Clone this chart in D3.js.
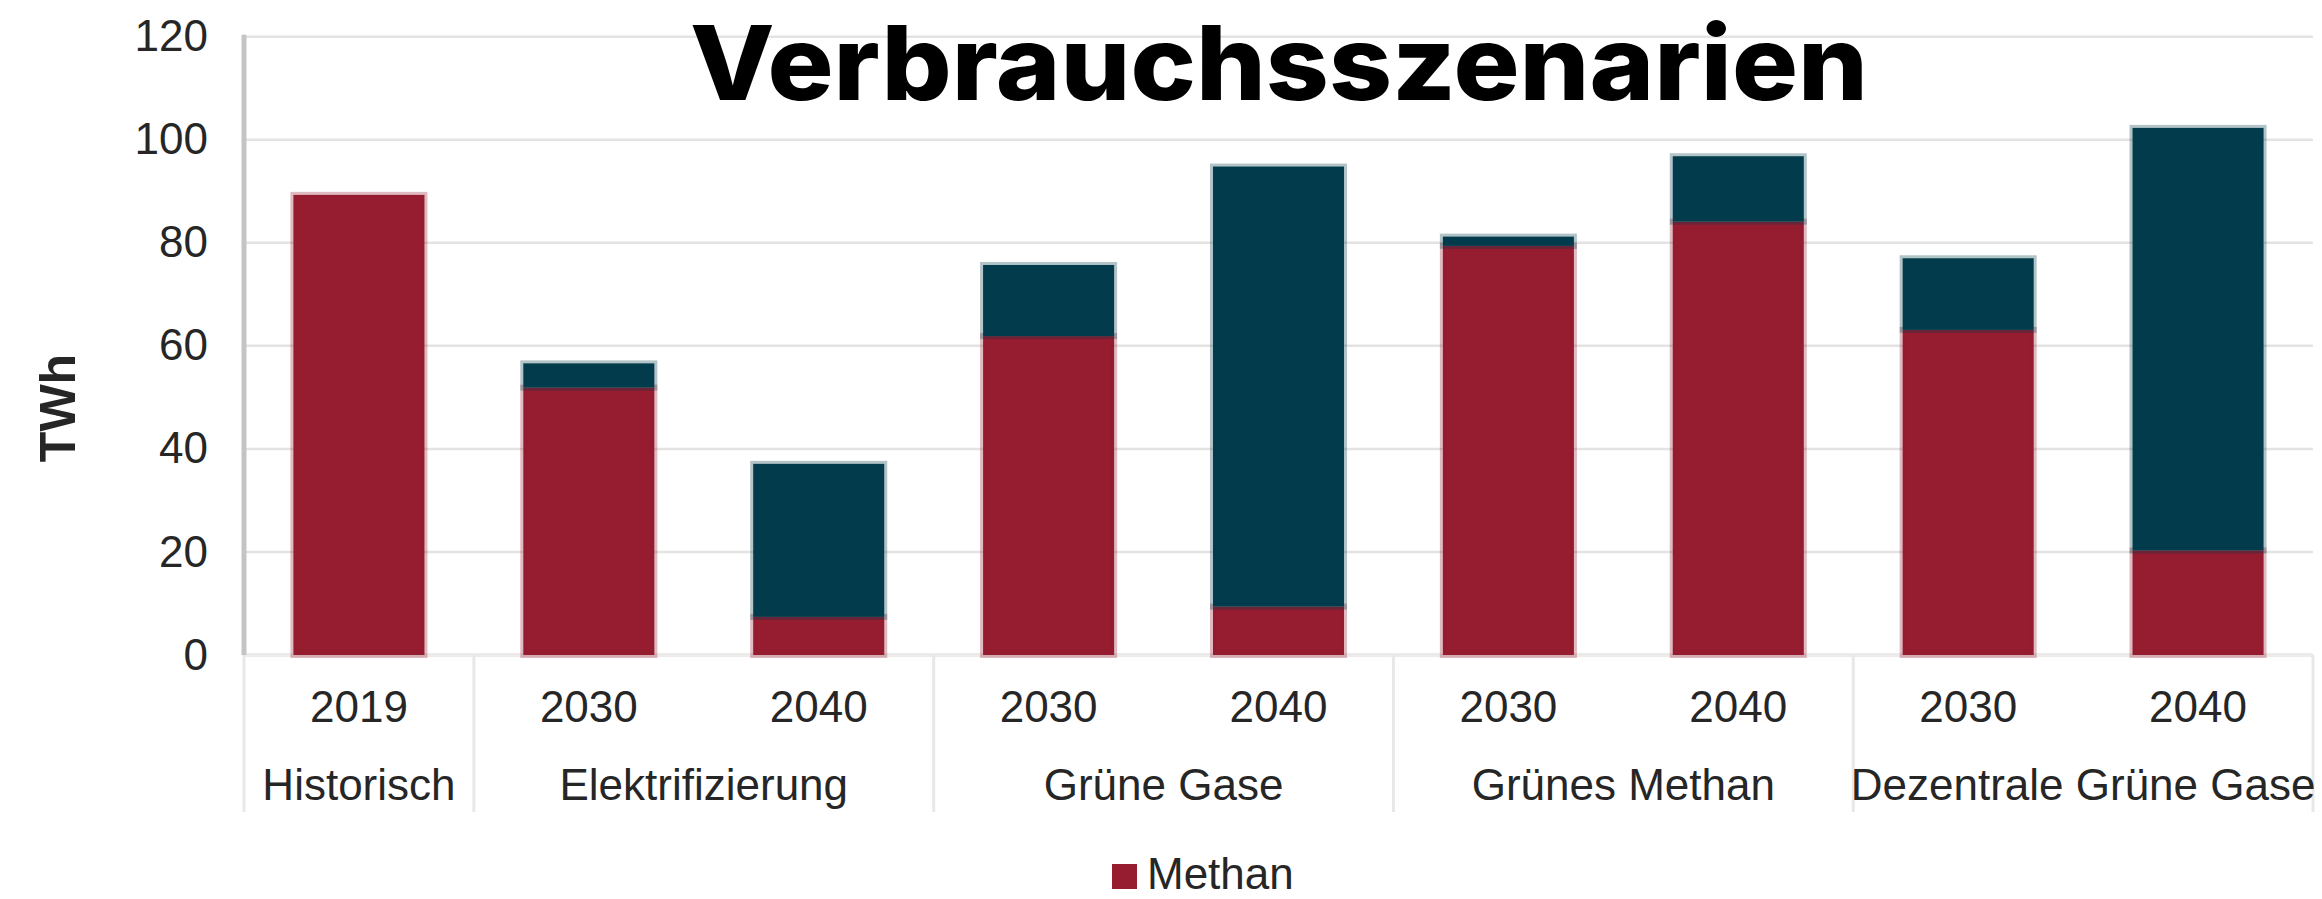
<!DOCTYPE html>
<html lang="de">
<head>
  <meta charset="UTF-8">
  <title>Verbrauchsszenarien</title>
  <script src="https://d3js.org/d3.v7.min.js"></script>
  <style>
    html, body {
      margin: 0;
      padding: 0;
      background: #fff;
    }
    svg {
      display: block;
    }
    .tick text {
      font-family: "Liberation Sans", Arial, sans-serif;
      font-size: 44px;
      fill: #262626;
    }
  </style>
</head>
<body>
  <div id="chart"></div>

  <script>
    // Data
    const years = ["2019", "2030", "2040", "2030", "2040", "2030", "2040", "2030", "2040"];
    const scenarios = ["Historisch", "Elektrifizierung", "Grüne Gase", "Grünes Methan", "Dezentrale Grüne Gase"];
    const scenarioSizes = [1, 2, 2, 2, 2];
    const methan = [89.3, 51.9, 7.4, 61.9, 9.4, 79.4, 84.1, 63.1, 20.3];
    const wasserstoff = [0, 4.7, 29.7, 13.8, 85.4, 1.8, 12.7, 13.9, 82.0];
    const yTicks = [0, 20, 40, 60, 80, 100, 120];

    const width = 2322;
    const height = 899;
    const plot = { left: 244, right: 2313, top: 36.7, bottom: 655 };
    const colors = { Methan: "#961c30", Wasserstoff: "#023b4b" };
    const font = '"Liberation Sans", Arial, sans-serif';

    const svg = d3.select("#chart")
      .append("svg")
      .attr("width", width)
      .attr("height", height);

    const x = d3.scaleBand()
      .domain(d3.range(years.length))
      .range([plot.left, plot.right])
      .paddingInner(0.43)
      .paddingOuter(0.215);

    const y = d3.scaleLinear()
      .domain([0, 120])
      .range([plot.bottom, plot.top]);

    // Gridlines
    svg.append("g")
      .selectAll("line")
      .data(yTicks)
      .join("line")
      .attr("x1", plot.left)
      .attr("x2", plot.right)
      .attr("y1", d => y(d))
      .attr("y2", d => y(d))
      .attr("stroke", d => d === 0 ? "#ecebea" : "#e5e3e1")
      .attr("stroke-width", d => d === 0 ? 4 : 2.5);

    // Y axis
    const yAxis = svg.append("g")
      .attr("transform", `translate(${plot.left},0)`)
      .call(d3.axisLeft(y).tickValues(yTicks).tickSize(0).tickPadding(36));
    yAxis.select(".domain").remove();

    svg.append("line")
      .attr("x1", plot.left)
      .attr("x2", plot.left)
      .attr("y1", plot.top - 2)
      .attr("y2", plot.bottom)
      .attr("stroke", "#c4c4c4")
      .attr("stroke-width", 5);

    svg.append("text")
      .attr("transform", `translate(75,408) rotate(-90)`)
      .attr("text-anchor", "middle")
      .attr("font-family", font)
      .attr("font-weight", "bold")
      .attr("font-size", 50)
      .attr("fill", "#262626")
      .text("TWh");

    // Stacked bars
    const rows = years.map((yr, i) => ({ i, Methan: methan[i], Wasserstoff: wasserstoff[i] }));
    const stacked = d3.stack().keys(["Methan", "Wasserstoff"])(rows);

    svg.append("g")
      .selectAll("g")
      .data(stacked)
      .join("g")
      .attr("fill", d => colors[d.key])
      .attr("stroke", d => colors[d.key])
      .attr("stroke-opacity", 0.3)
      .attr("stroke-width", 6)
      .selectAll("rect")
      .data(d => d.filter(p => p[1] - p[0] > 0))
      .join("rect")
      .attr("x", d => x(d.data.i))
      .attr("width", x.bandwidth())
      .attr("y", d => y(d[1]))
      .attr("height", d => y(d[0]) - y(d[1]));

    // Category axis: years and scenario groups
    const step = x.step();
    const bounds = [0];
    scenarioSizes.forEach(n => bounds.push(bounds[bounds.length - 1] + n));

    svg.append("g")
      .selectAll("line")
      .data(bounds)
      .join("line")
      .attr("x1", d => plot.left + d * step)
      .attr("x2", d => plot.left + d * step)
      .attr("y1", plot.bottom)
      .attr("y2", 812)
      .attr("stroke", "#e9e8e7")
      .attr("stroke-width", 3);

    svg.append("g")
      .selectAll("text")
      .data(years)
      .join("text")
      .attr("x", (d, i) => x(i) + x.bandwidth() / 2)
      .attr("y", 722)
      .attr("text-anchor", "middle")
      .attr("font-family", font)
      .attr("font-size", 44)
      .attr("fill", "#262626")
      .text(d => d);

    svg.append("g")
      .selectAll("text")
      .data(scenarios)
      .join("text")
      .attr("x", (d, i) => plot.left + (bounds[i] + bounds[i + 1]) / 2 * step)
      .attr("y", 800)
      .attr("text-anchor", "middle")
      .attr("font-family", font)
      .attr("font-size", 44)
      .attr("fill", "#262626")
      .text(d => d);

    // Legend (only the first entry is visible in the reference)
    const legend = svg.append("g")
      .attr("transform", "translate(1112,864)");
    legend.append("rect")
      .attr("width", 25)
      .attr("height", 25)
      .attr("fill", colors.Methan);
    legend.append("text")
      .attr("x", 35)
      .attr("y", 25)
      .attr("font-family", font)
      .attr("font-size", 44)
      .attr("fill", "#262626")
      .text("Methan");

    // Title
    svg.append("text")
      .attr("x", 690)
      .attr("y", 100)
      .attr("font-family", "Inter, 'Open Sans', sans-serif")
      .attr("font-weight", 800)
      .attr("font-size", 103)
      .attr("fill", "#000")
      .attr("textLength", 1178)
      .attr("lengthAdjust", "spacingAndGlyphs")
      .text("Verbrauchsszenarien");
  </script>
</body>
</html>
